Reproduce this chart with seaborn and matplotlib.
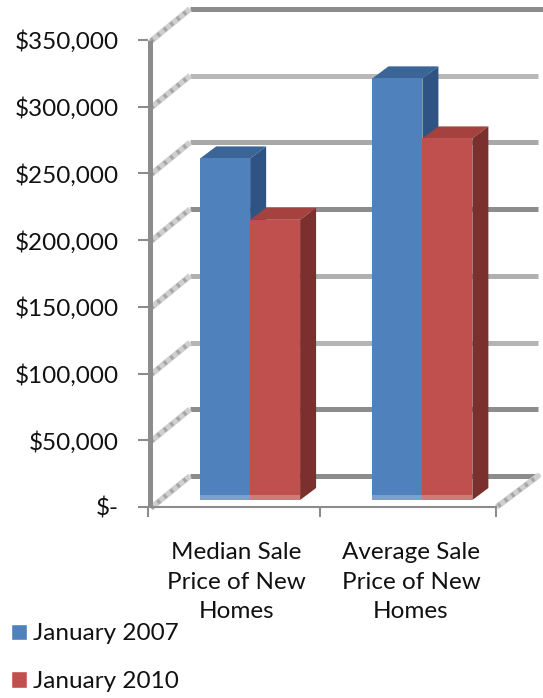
import matplotlib
matplotlib.use("Agg")
import matplotlib.pyplot as plt
import pandas as pd
import seaborn as sns
from matplotlib.patches import Polygon
from matplotlib.transforms import Affine2D

# data
categories = ["Median Sale\nPrice of New\nHomes", "Average Sale\nPrice of New\nHomes"]
jan_2007 = [256000, 316000]
jan_2010 = [210000, 271000]
series_names = ["January 2007", "January 2010"]
tick_values = [0, 50000, 100000, 150000, 200000, 250000, 300000, 350000]
tick_labels = ["$-", "$50,000", "$100,000", "$150,000", "$200,000", "$250,000", "$300,000", "$350,000"]
grid_colors = ["#8c8c8c", "#8c8c8c", "#b4b4b4", "#b0b0b0", "#8c8c8c", "#a8a8a8", "#b8b8b8", "#8c8c8c"]

df = pd.DataFrame({
    "category": categories * 2,
    "price": jan_2007 + jan_2010,
    "series": [series_names[0]] * 2 + [series_names[1]] * 2,
})

W, H = 543, 698
FRONT = ["#4f81bd", "#c0504d"]
TOP = ["#3a6596", "#a5423f"]
SIDE = ["#2f5484", "#7b302e"]

sns.set_theme(style="white")
plt.rcParams["font.family"] = ["Lato", "DejaVu Sans"]

fig = plt.figure(figsize=(W / 100, H / 100), dpi=100, facecolor="white")
ax = fig.add_axes([148 / W, 1 - 507 / H, (496 - 148) / W, (507 - 40) / H])

sns.barplot(data=df, x="category", y="price", hue="series", palette=FRONT,
            width=0.58, gap=0, saturation=1, ax=ax, zorder=5)

ax.set_xlim(-0.5, 1.52)
ax.set_ylim(0, 350000)
ax.set_xlabel("")
ax.set_ylabel("")
ax.patch.set_alpha(0)
sns.despine(ax=ax, top=True, right=True, left=True, bottom=False)
ax.spines["bottom"].set_color("#8c8c8c")
ax.spines["bottom"].set_linewidth(1.5)

# ticks
ax.set_yticks(tick_values)
ax.set_yticklabels(tick_labels, fontsize=17.5, color="#111111")
ax.tick_params(axis="y", length=7, width=1.5, color="#8c8c8c", left=True, pad=14)
ax.set_xticks([0, 1.015])
ax.set_xticklabels(categories, fontsize=17.5, color="#111111", linespacing=1.52)
ax.set_xticks([-0.5, 0.5, 1.52], minor=True)
ax.tick_params(axis="x", which="major", length=0, pad=25)
ax.tick_params(axis="x", which="minor", length=7, width=1.5, color="#8c8c8c", bottom=True)
for lab in ax.get_xticklabels():
    lab.set_transform(lab.get_transform() + Affine2D().translate(2, 0))

# fake 3d box, pixel offsets between front and back of the floor
DX, DY = 42, 31
back = ax.transData + Affine2D().translate(DX, DY)
x0, x1 = ax.get_xlim()
for v, c in zip(tick_values, grid_colors):
    right = 1.52 + (543 - 538) / 172 if v == 350000 else 1.52
    ax.plot([x0, right], [v, v], color=c, lw=3.6, transform=back, zorder=1,
            clip_on=False, solid_capstyle="butt")

# side wall gridlines, looks hatched in the original
for v in tick_values:
    px, py = ax.transData.transform((x0, v))
    xs = [(px + 3) / W, (px + DX) / W]
    ys = [(py - 1) / H, (py + DY) / H]
    ax.plot(xs, ys, color="#cfcfcf", lw=4.2, transform=fig.transFigure, zorder=2,
            clip_on=False, solid_capstyle="butt")
    ax.plot(xs, ys, color="#a6a6a6", lw=3.2, ls=(0, (0.7, 1.2)), transform=fig.transFigure,
            zorder=2, clip_on=False)

# right floor edge
px, py = ax.transData.transform((x1, 0))
xs = [(px + 2) / W, (px + DX) / W]
ys = [(py + 1) / H, (py + DY) / H]
ax.plot(xs, ys, color="#cfcfcf", lw=4.2, transform=fig.transFigure, zorder=2, clip_on=False)
ax.plot(xs, ys, color="#a6a6a6", lw=3.2, ls=(0, (0.7, 1.2)), transform=fig.transFigure,
        zorder=2, clip_on=False)

# left axis wall
ax.plot([x0, x0], [0, 350000], color="#8c8c8c", lw=3.6, zorder=2.5, clip_on=False,
        transform=ax.transData + Affine2D().translate(2, 0), solid_capstyle="butt")

# bars stand a bit in from the front edge, add top and side faces
BAR_DX, BAR_DY = 16, 7
DEPTH_X, DEPTH_Y = 16, 12
shift = ax.transData + Affine2D().translate(BAR_DX, BAR_DY)
for i, cont in enumerate(ax.containers):
    for bar in cont:
        bar.set_transform(shift)
        bar.set_clip_on(False)
        bar.set_edgecolor("none")
        (l, b), (r, t) = shift.transform(bar.get_bbox().get_points())
        top = [(l, t), (l + DEPTH_X, t + DEPTH_Y), (r + DEPTH_X, t + DEPTH_Y), (r, t)]
        side = [(r, t), (r + DEPTH_X, t + DEPTH_Y), (r + DEPTH_X, b + DEPTH_Y), (r, b)]
        strip = [(l, b), (l, b + 5), (r, b + 5), (r, b)]
        for pts, col, a, z in [(top, TOP[i], 1, 4 + i * 0.5), (side, SIDE[i], 1, 4 + i * 0.5),
                               (strip, "white", 0.25, 6)]:
            fig_pts = [(x / W, y / H) for x, y in pts]
            ax.add_patch(Polygon(fig_pts, closed=True, facecolor=col, edgecolor="none", alpha=a,
                                 transform=fig.transFigure, zorder=z, clip_on=False))

# legend
handles, labels = ax.get_legend_handles_labels()
ax.legend(handles, labels, loc="lower left", bbox_to_anchor=(11 / W, 6 / H),
          bbox_transform=fig.transFigure, frameon=False, fontsize=17.5, ncol=1,
          handlelength=0.66, handleheight=0.66, handletextpad=0.25, labelspacing=1.1,
          borderpad=0, borderaxespad=0, labelcolor="#111111")

fig.savefig("out.png", dpi=100)
